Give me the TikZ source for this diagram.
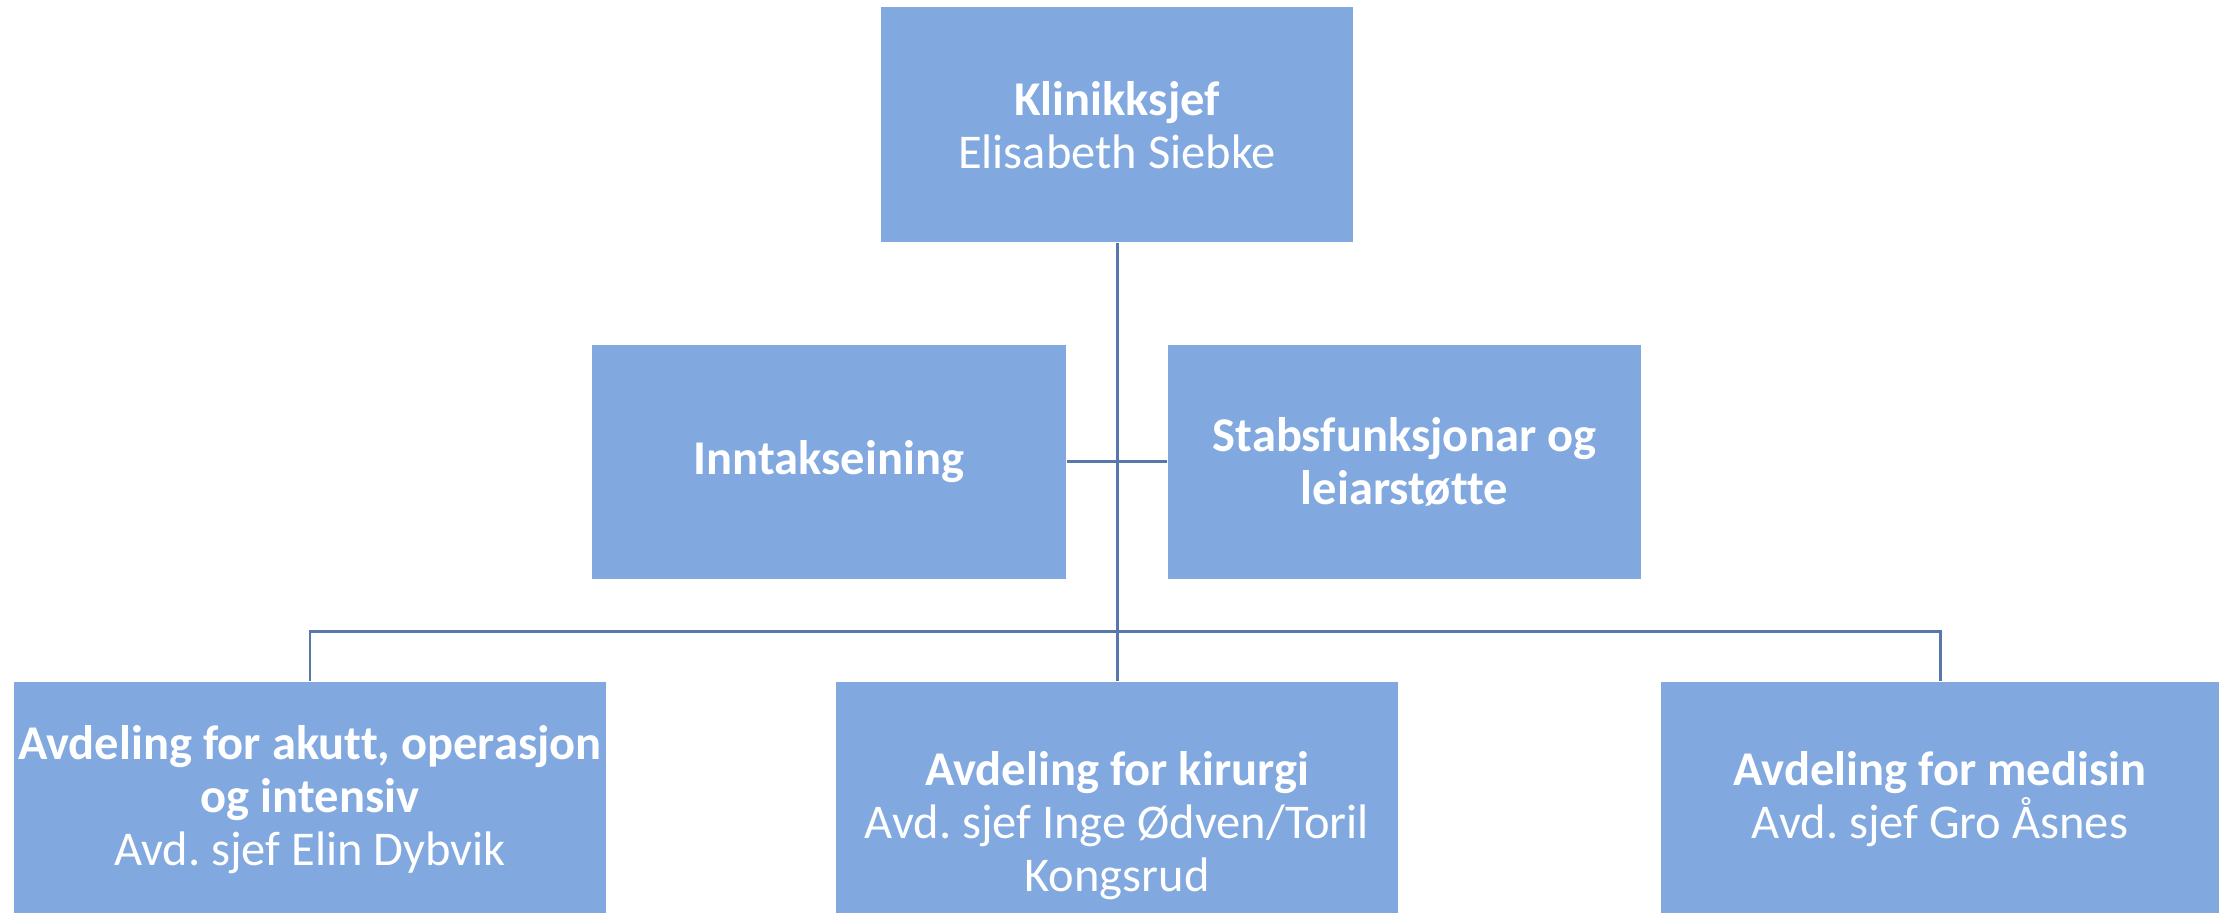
\documentclass[tikz,border=0pt]{standalone}
\usepackage{fontspec}
\setmainfont{Carlito}[Ligatures=NoCommon]
\frenchspacing
\definecolor{boxblue}{RGB}{129,169,223}
\definecolor{lineblue}{RGB}{88,119,170}
\tikzset{%
    unit/.style={rectangle, fill=boxblue, text=white, align=center,
    	inner sep=0pt, minimum height=2.35cm,
    	font=\fontsize{13.8}{15}\selectfont},
    link/.style={draw=lineblue, line width=0.85pt}
}

\begin{document}
\begin{tikzpicture}
  \useasboundingbox (0cm, 0cm) rectangle (22.33cm, 9.13cm);
  \node (chief) [unit, minimum width=4.72cm] at (11.17cm, 7.88cm)
    {\textbf{Klinikksjef}\\Elisabeth Siebke};
  \node (intake) [unit, minimum width=4.74cm, minimum height=2.34cm] at (8.29cm, 4.51cm)
    {\textbf{Inntakseining}};
  \node (staff) [unit, minimum width=4.73cm, minimum height=2.34cm] at (14.045cm, 4.51cm)
    {\textbf{Stabsfunksjonar og}\\\textbf{leiarstøtte}};

  \node (acute) [unit, minimum width=5.92cm] at (3.10cm, 1.135cm)
    {\textbf{Avdeling for akutt, operasjon}\\\textbf{og intensiv}\\Avd. sjef Elin Dybvik};
  \node (surg) [unit, minimum width=5.62cm, minimum height=2.87cm] at (11.17cm, 0.875cm)
    {\textbf{Avdeling for kirurgi}\\Avd. sjef Inge Ødven/Toril\\Kongsrud};
  \node (med) [unit, minimum width=5.58cm] at (19.40cm, 1.135cm)
    {\textbf{Avdeling for medisin}\\Avd. sjef Gro Åsnes};

  \coordinate (bus) at (11.17cm, 2.81cm);
  \draw [link] (chief) -- (surg);
  \draw [link] (intake) -- (staff);
  \draw [link] (acute.north) |- (bus) -| (med.north);
\end{tikzpicture}
\end{document}
